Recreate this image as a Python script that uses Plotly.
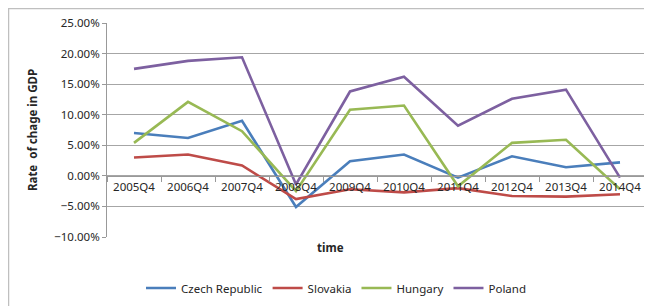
import plotly.graph_objects as go

categories = ["2005Q4", "2006Q4", "2007Q4", "2008Q4", "2009Q4",
              "2010Q4", "2011Q4", "2012Q4", "2013Q4", "2014Q4"]
czech = [7.0, 6.2, 9.0, -5.1, 2.4, 3.5, -0.3, 3.2, 1.4, 2.2]
slovakia = [3.0, 3.5, 1.7, -3.8, -2.2, -2.7, -2.0, -3.3, -3.4, -3.0]
hungary = [5.4, 12.1, 7.3, -2.5, 10.8, 11.5, -1.7, 5.4, 5.9, -2.2]
poland = [17.5, 18.8, 19.4, -1.4, 13.8, 16.2, 8.2, 12.6, 14.1, -0.3]
series_names = ["Czech Republic", "Slovakia", "Hungary", "Poland"]
colors = ["#4A7EBB", "#BE4B48", "#98B954", "#7D60A0"]
y_min, y_max = -10, 25

fig = go.Figure()
for name, vals, col in zip(series_names, [czech, slovakia, hungary, poland], colors):
    fig.add_trace(go.Scatter(x=categories, y=vals, mode="lines", name=name,
                             line=dict(color=col, width=2.6)))

font = "Noto Sans, Open Sans, sans-serif"
zero_pos = (0 - y_min) / (y_max - y_min)

W, H = 644, 298
L, T, R, B = 99, 15, 5, 69
pw, ph = W - L - R, H - T - B

fig.update_layout(
    width=W, height=H,
    margin=dict(l=L, r=R, t=T, b=B, autoexpand=False),
    paper_bgcolor="white", plot_bgcolor="white",
    font=dict(family=font, size=11, color="#262626"),
    showlegend=True,
    legend=dict(orientation="h", x=(328 - L) / pw, xanchor="center",
                y=(T + ph - 280) / ph, yanchor="middle",
                font=dict(size=11.5), itemwidth=30, traceorder="normal"),
    xaxis=dict(type="category", anchor="free", position=zero_pos, automargin=False,
               showline=True, linecolor="#999999", linewidth=1,
               ticks="outside", tickson="boundaries", ticklen=5, tickcolor="#999999",
               showgrid=False, tickfont=dict(size=11.5, color="#262626"),
               range=[-0.5, len(categories) - 0.5]),
    yaxis=dict(range=[y_min, y_max], dtick=5, tickformat=".2f", ticksuffix="%",
               automargin=False,
               showgrid=True, gridcolor="#A6A6A6", gridwidth=1,
               showline=True, linecolor="#999999", ticks="outside", ticklen=4,
               tickcolor="#999999", zeroline=False,
               tickfont=dict(size=11.5, color="#262626"),
               title=dict(text="<b>Rate  of chage in GDP</b>", font=dict(size=11.5), standoff=14)),
)

fig.add_annotation(text="<b>time</b>", xref="paper", yref="paper",
                   x=(322 - L) / pw, y=(T + ph - 249) / ph, showarrow=False,
                   font=dict(size=11.5, color="#262626"))

fig.add_shape(type="rect", xref="paper", yref="paper",
              x0=(0.5 - L) / pw, x1=(W - 1 - L) / pw,
              y0=(T + ph - (H + 5)) / ph, y1=(T + ph - 0.5) / ph,
              line=dict(color="#BFBFBF", width=1.5), layer="below")

fig.write_html("out.html")
